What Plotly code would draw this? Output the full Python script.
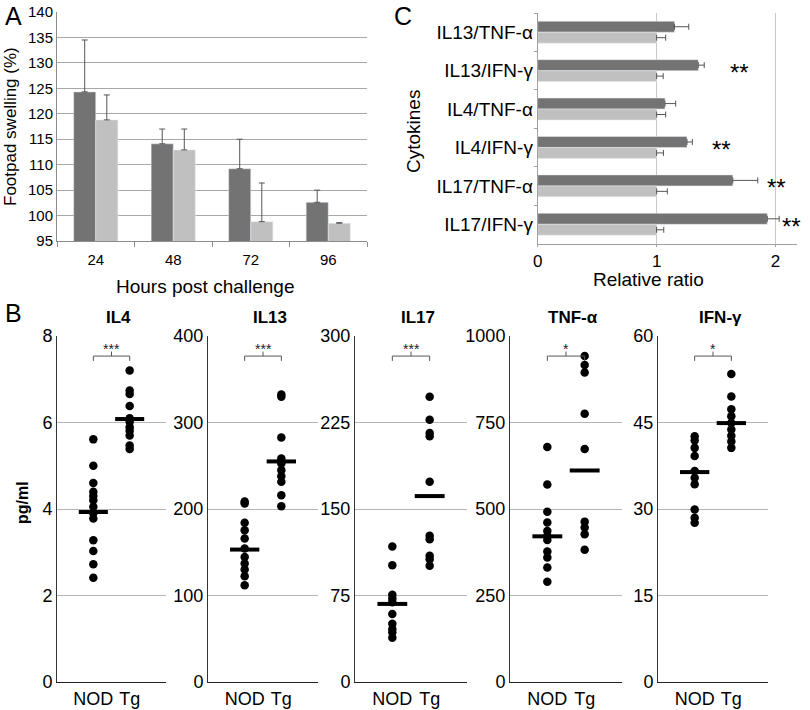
import plotly.graph_objects as go

W, H = 810, 710

# ---------------- Panel A data ----------------
hours = ["24", "48", "72", "96"]
dark_swelling = [124.3, 114.1, 109.2, 102.6]
dark_swelling_err = [10.2, 2.9, 5.8, 2.4]
light_swelling = [118.8, 112.9, 98.8, 98.5]
light_swelling_err = [4.9, 4.1, 7.6, 0.1]
swelling_ticks = [95, 100, 105, 110, 115, 120, 125, 130, 135, 140]

# ---------------- Panel C data ----------------
ratio_names = ["IL13/TNF-α", "IL13/IFN-γ", "IL4/TNF-α", "IL4/IFN-γ", "IL17/TNF-α", "IL17/IFN-γ"]
tg_ratio = [1.15, 1.35, 1.07, 1.255, 1.64, 1.93]
tg_ratio_err = [0.12, 0.05, 0.09, 0.045, 0.21, 0.10]
nod_ratio = [1.0, 1.0, 1.0, 1.0, 1.0, 1.0]
nod_ratio_err = [0.076, 0.055, 0.076, 0.057, 0.09, 0.06]
ratio_sig = ["", "**", "", "**", "**", "**"]
ratio_sig_x = [None, 1.70, None, 1.545, 2.01, 2.13]

# ---------------- Panel B data ----------------
groups = ["NOD", "Tg"]
cyto_titles = ["IL4", "IL13", "IL17", "TNF-α", "IFN-γ"]
il4_nod = [5.61, 5.0, 4.6, 4.4, 4.3, 4.2, 4.05, 3.9, 3.78, 3.28, 3.03, 2.72, 2.41]
il4_tg = [7.2, 6.74, 6.66, 6.38, 6.1, 6.02, 5.89, 5.81, 5.70, 5.47, 5.39]
il4_median = [3.93, 6.08]
il13_nod = [208.7, 206.4, 184, 175.5, 165.9, 154.3, 144.6, 136.9, 130, 122.3, 111.9]
il13_tg = [332.5, 329.8, 282.7, 258.4, 252.6, 244.9, 238, 231.4, 216, 203.3]
il13_median = [153.1, 255]
il17_nod = [117.5, 101.3, 75.7, 72.5, 69.1, 59, 50.4, 46, 43.2, 38.3]
il17_tg = [247.3, 227.4, 215.9, 213, 173.6, 126.7, 123.8, 109.4, 106.5, 100.8]
il17_median = [67.7, 161.2]
tnf_nod = [679.5, 571, 492.3, 460.7, 436.7, 422.3, 410.7, 377, 360, 331, 289.8]
tnf_tg = [942.4, 916.5, 894.4, 775.4, 673.7, 463.5, 446.3, 427, 382]
tnf_median = [421, 611.3]
ifn_nod = [42.6, 41.9, 40.6, 39.2, 36.6, 35.4, 34.3, 29.9, 28.5, 27.6]
ifn_tg = [53.4, 49.5, 47.3, 46.1, 44.9, 43.8, 42.7, 41.7, 40.6]
ifn_median = [36.4, 44.9]
cyto_sig = ["***", "***", "***", "*", "*"]
cyto_ymax = [8, 400, 300, 1000, 60]
cyto_dtick = [2, 100, 75, 250, 15]

cyto_nod = [il4_nod, il13_nod, il17_nod, tnf_nod, ifn_nod]
cyto_tg = [il4_tg, il13_tg, il17_tg, tnf_tg, ifn_tg]
cyto_median = [il4_median, il13_median, il17_median, tnf_median, ifn_median]

# ---------------- styling ----------------
DARK = "#737373"
LIGHT = "#c0c0c0"
ERR = "#555555"
SANS = "Liberation Sans, Arial, sans-serif"


def px_x(p):
    return p / W


def px_y(p):
    return 1 - p / H


def label(x, y, text, size, angle=0):
    return dict(x=px_x(x), y=px_y(y), xref="paper", yref="paper", text=text,
                showarrow=False, xanchor="center", yanchor="middle", textangle=angle,
                font=dict(family=SANS, size=size, color="black"))


fig = go.Figure()

# ---- Panel A bars ----
fig.add_trace(go.Bar(
    x=hours, y=dark_swelling, marker_color=DARK, xaxis="x", yaxis="y",
    error_y=dict(type="data", array=dark_swelling_err,
                 arrayminus=[0] * len(hours), symmetric=False,
                 color=ERR, thickness=1, width=3),
    showlegend=False))
fig.add_trace(go.Bar(
    x=hours, y=light_swelling, marker_color=LIGHT, xaxis="x", yaxis="y",
    error_y=dict(type="data", array=light_swelling_err,
                 arrayminus=[0] * len(hours), symmetric=False,
                 color=ERR, thickness=1, width=3),
    showlegend=False))

# ---- Panel C bars ----
fig.add_trace(go.Bar(
    y=ratio_names, x=tg_ratio, orientation="h", marker_color=DARK,
    xaxis="x2", yaxis="y2",
    error_x=dict(type="data", array=tg_ratio_err,
                 arrayminus=[0] * len(ratio_names), symmetric=False,
                 color=ERR, thickness=1, width=3),
    showlegend=False))
fig.add_trace(go.Bar(
    y=ratio_names, x=nod_ratio, orientation="h", marker_color=LIGHT,
    xaxis="x2", yaxis="y2",
    error_x=dict(type="data", array=nod_ratio_err,
                 arrayminus=[0] * len(ratio_names), symmetric=False,
                 color=ERR, thickness=1, width=3),
    showlegend=False))

annotations = []
shapes = []

for name, s, sx in zip(ratio_names, ratio_sig, ratio_sig_x):
    if s:
        annotations.append(dict(x=sx, y=name, xref="x2", yref="y2", text=s,
                                showarrow=False, xanchor="center", yanchor="middle",
                                yshift=-2,
                                font=dict(family=SANS, size=24, color="black")))

# ---- Panel B scatter ----
b_domains = [(57, 166), (208, 318), (355, 467), (510, 622), (658, 768)]
b_top, b_bottom = 336, 682

layout_axes = {}
for i in range(5):
    ax = i + 3
    xa = "x%d" % ax
    ya = "y%d" % ax
    nod = cyto_nod[i]
    tg = cyto_tg[i]
    fig.add_trace(go.Scatter(
        x=[1] * len(nod) + [2] * len(tg), y=nod + tg, mode="markers",
        marker=dict(color="black", size=8.5), xaxis=xa, yaxis=ya,
        cliponaxis=False, showlegend=False))
    for g in range(2):
        fig.add_trace(go.Scatter(
            x=[g + 1 - 0.4, g + 1 + 0.4], y=[cyto_median[i][g]] * 2,
            mode="lines", line=dict(color="black", width=4),
            xaxis=xa, yaxis=ya, showlegend=False, hoverinfo="skip"))
    # significance bracket
    bracket_col = "#555555"
    shapes += [
        dict(type="line", xref=xa, yref=ya + " domain", x0=1, x1=2, y0=0.942, y1=0.942,
             line=dict(color=bracket_col, width=1)),
        dict(type="line", xref=xa, yref=ya + " domain", x0=1, x1=1, y0=0.942, y1=0.928,
             line=dict(color=bracket_col, width=1)),
        dict(type="line", xref=xa, yref=ya + " domain", x0=2, x1=2, y0=0.942, y1=0.928,
             line=dict(color=bracket_col, width=1)),
        dict(type="line", xref=xa, yref=ya + " domain", x0=1.5, x1=1.5, y0=0.942, y1=0.955,
             line=dict(color=bracket_col, width=1)),
    ]
    annotations.append(dict(x=1.5, y=0.962, xref=xa, yref=ya + " domain",
                            text=cyto_sig[i], showarrow=False,
                            xanchor="center", yanchor="middle",
                            font=dict(family=SANS, size=14, color="#222222")))
    annotations.append(dict(x=1.5, xshift=7, y=px_y(317), xref=xa, yref="paper",
                            text="<b>%s</b>" % cyto_titles[i], showarrow=False,
                            xanchor="center", yanchor="middle",
                            font=dict(family=SANS, size=17, color="black")))
    x0, x1 = b_domains[i]
    layout_axes["xaxis%d" % ax] = dict(
        domain=[px_x(x0), px_x(x1)], anchor=ya, range=[0, 3],
        tickvals=[1, 2], ticktext=groups, showgrid=False, zeroline=False,
        showline=True, linecolor="#222222", linewidth=1, ticks="",
        tickfont=dict(family=SANS, size=18, color="black"), fixedrange=True)
    layout_axes["yaxis%d" % ax] = dict(
        domain=[px_y(b_bottom), px_y(b_top)], anchor=xa,
        range=[0, cyto_ymax[i]], dtick=cyto_dtick[i], tick0=0,
        showgrid=True, gridcolor="#b5b5b5", gridwidth=1, zeroline=False,
        showline=True, linecolor="#333333", linewidth=1, ticks="",
        tickfont=dict(family=SANS, size=18, color="black"), fixedrange=True)

# ---- Text labels ----
annotations += [
    label(13, 16, "A", 25),
    label(403, 16, "C", 25),
    label(13, 313, "B", 25),
    label(11, 127, "Footpad swelling (%)", 17, -90),
    label(205, 286, "Hours post challenge", 19),
    label(414, 131, "Cytokines", 19, -90),
    label(648, 280, "Relative ratio", 19),
    label(22, 503, "<b>pg/ml</b>", 16, -90),
]

fig.update_layout(
    width=W, height=H, margin=dict(l=0, r=0, t=0, b=0, autoexpand=False),
    paper_bgcolor="white", plot_bgcolor="white",
    barmode="group", bargap=0.43, bargroupgap=0,
    xaxis=dict(domain=[px_x(57), px_x(367)], anchor="y", type="category",
               showline=True, linecolor="#8c8c8c", ticks="outside", tickson="boundaries",
               ticklen=5, tickcolor="#8c8c8c", showgrid=False, ticklabelstandoff=5,
               tickfont=dict(family=SANS, size=15, color="black"), fixedrange=True),
    yaxis=dict(domain=[px_y(241), px_y(12)], anchor="x", range=[95, 140],
               tickvals=swelling_ticks, showgrid=True, gridcolor="#a8a8a8",
               showline=True, linecolor="#8c8c8c", zeroline=False, ticks="",
               tickfont=dict(family=SANS, size=15, color="black"), fixedrange=True),
    xaxis2=dict(domain=[px_x(537.7), px_x(797)], anchor="y2", range=[0, 2.18],
                tickvals=[0, 1, 2], showgrid=True, gridcolor="#c8c8c8",
                showline=True, linecolor="#a0a0a0", zeroline=False,
                ticks="outside", ticklen=2, tickcolor="#a0a0a0",
                tickfont=dict(family=SANS, size=17, color="black"), fixedrange=True),
    yaxis2=dict(domain=[px_y(243.5), px_y(13)], anchor="x2", type="category",
                autorange="reversed", showline=True, linecolor="#a0a0a0",
                ticks="outside", tickson="boundaries", ticklen=3, tickcolor="#a0a0a0",
                showgrid=False,
                tickfont=dict(family=SANS, size=19, color="black"), fixedrange=True),
    annotations=annotations, shapes=shapes,
    **layout_axes,
)

fig.write_html("out.html", config={"displayModeBar": False},
               post_script="document.body.style.margin='0';document.body.style.padding='0';")
